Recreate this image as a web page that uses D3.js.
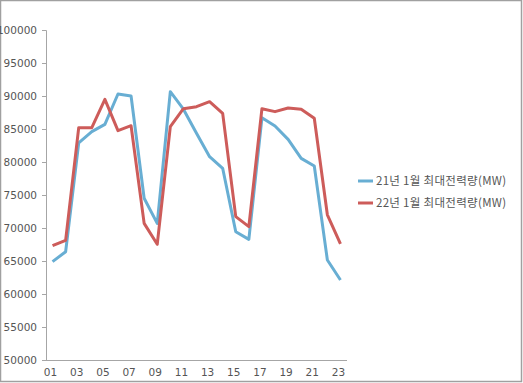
<!DOCTYPE html>
<html><head><meta charset="utf-8">
<script src="https://cdn.jsdelivr.net/npm/d3@7"></script>
<style>body{margin:0;background:#fff;}svg{display:block;}</style>
</head><body>
<svg id="c" width="523" height="383"></svg>
<script>
const categories = ["01","02","03","04","05","06","07","08","09","10","11","12","13","14","15","16","17","18","19","20","21","22","23"];
const series21 = [64900,66400,82900,84600,85700,90300,90000,74500,70700,90650,88000,84350,80800,79050,69440,68280,86700,85450,83430,80550,79400,65150,62120];
const series22 = [67320,68130,85200,85200,89500,84750,85500,70700,67530,85350,88080,88380,89140,87370,71720,70200,88080,87630,88180,87980,86620,72000,67600];
const seriesNames = ["21년 1월 최대전력량(MW)", "22년 1월 최대전력량(MW)"];
const yTicks = [50000,55000,60000,65000,70000,75000,80000,85000,90000,95000,100000];
const xTickLabels = ["01","03","05","07","09","11","13","15","17","19","21","23"];
const colors = ["#68aed3", "#cd5c5a"];

(function(){
const svg = d3.select("#c");
const font = "'DejaVu Sans', sans-serif";
svg.append("rect").attr("x",0.5).attr("y",0.5).attr("width",521).attr("height",381)
  .attr("fill","#fff").attr("stroke","#a0a0a0").attr("stroke-width",1.5);

const pl = 46, pr = 347, pt = 30, pb = 360;
const x = d3.scaleBand().domain(categories).range([pl, pr]);
const y = d3.scaleLinear().domain([50000,100000]).range([pb, pt]);

const yAxis = svg.append("g").attr("transform",`translate(${pl},0)`)
  .call(d3.axisLeft(y).tickValues(yTicks).tickSize(4).tickPadding(5).tickFormat(d3.format("d")));
yAxis.selectAll("path,line").attr("stroke","#a6a6a6");
yAxis.selectAll("text").attr("fill","#555").style("font-family",font).style("font-size","10.5px");

const xAxis = svg.append("g").attr("transform",`translate(0,${pb})`)
  .call(d3.axisBottom(x).tickValues(xTickLabels).tickSize(0).tickPadding(9));
xAxis.selectAll("path").attr("stroke","#a6a6a6").attr("d",`M${pl},0.5H${pr}`);
xAxis.selectAll("text").attr("fill","#555").style("font-family",font).style("font-size","10.5px")
  .attr("dx","-2");

const line = d3.line().x((d,i)=>x(categories[i]) + x.bandwidth()/2).y(d=>y(d));
[series21, series22].forEach((s,k)=>{
  svg.append("path").datum(s).attr("d",line).attr("fill","none")
    .attr("stroke",colors[k]).attr("stroke-width",3).attr("stroke-linejoin","round");
});
const lg = svg.append("g");
seriesNames.forEach((n,k)=>{
  const yy = 181 + k*22;
  lg.append("line").attr("x1",358).attr("x2",373).attr("y1",yy).attr("y2",yy)
    .attr("stroke",colors[k]).attr("stroke-width",3);
  lg.append("text").attr("x",376).attr("y",yy+4).text(n)
    .attr("fill","#555").style("font-family","'Noto Sans CJK KR', sans-serif").style("font-size","11.5px")
    .style("letter-spacing","0.3px");
});
})();
</script>
</body></html>
